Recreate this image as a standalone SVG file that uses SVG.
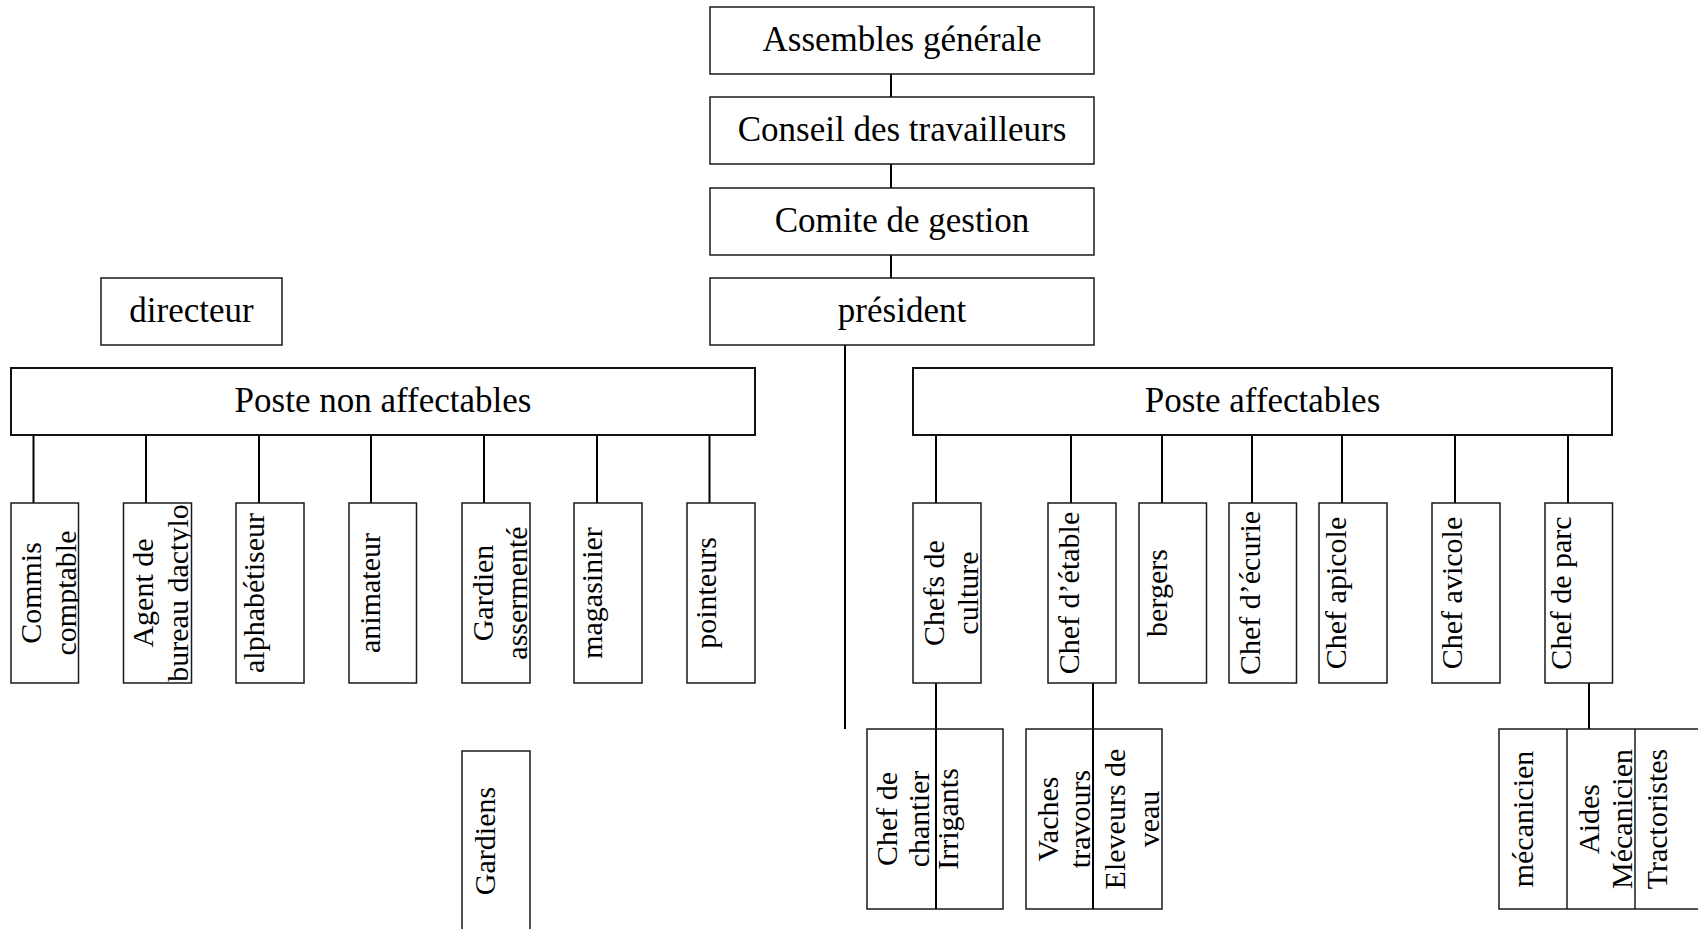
<svg xmlns="http://www.w3.org/2000/svg" width="1698" height="929" viewBox="0 0 1698 929">
<style>
  .bg{fill:#fff}
  .box{fill:#fff;stroke:#1a1a1a;stroke-width:1.5}
  .boxb{fill:#fff;stroke:#111;stroke-width:2}
  .cl{stroke:#000;stroke-width:2;fill:none}
  .dv{stroke:#1a1a1a;stroke-width:1.5;fill:none}
  text{font-family:"Liberation Serif","Times New Roman",serif;fill:#000;text-anchor:middle}
  .h{font-size:35px}
  .v{font-size:30px}
</style>
<defs>
  <clipPath id="c1"><rect x="11" y="503" width="67.5" height="180"/></clipPath>
  <clipPath id="c2"><rect x="123.5" y="503" width="68" height="180"/></clipPath>
</defs>
<rect class="bg" x="0" y="0" width="1698" height="929"/>

<g id="connectors">
  <line class="cl" x1="891" y1="74" x2="891" y2="97"/>
  <line class="cl" x1="891" y1="164" x2="891" y2="188"/>
  <line class="cl" x1="891" y1="255" x2="891" y2="278"/>
  <line class="cl" x1="845" y1="345" x2="845" y2="729"/>
  <line class="cl" x1="33.5" y1="435" x2="33.5" y2="503"/>
  <line class="cl" x1="146" y1="435" x2="146" y2="503"/>
  <line class="cl" x1="259" y1="435" x2="259" y2="503"/>
  <line class="cl" x1="371" y1="435" x2="371" y2="503"/>
  <line class="cl" x1="484" y1="435" x2="484" y2="503"/>
  <line class="cl" x1="597" y1="435" x2="597" y2="503"/>
  <line class="cl" x1="709.5" y1="435" x2="709.5" y2="503"/>
  <line class="cl" x1="936" y1="435" x2="936" y2="503"/>
  <line class="cl" x1="1071" y1="435" x2="1071" y2="503"/>
  <line class="cl" x1="1162" y1="435" x2="1162" y2="503"/>
  <line class="cl" x1="1252" y1="435" x2="1252" y2="503"/>
  <line class="cl" x1="1342" y1="435" x2="1342" y2="503"/>
  <line class="cl" x1="1455" y1="435" x2="1455" y2="503"/>
  <line class="cl" x1="1568" y1="435" x2="1568" y2="503"/>
  <line class="cl" x1="936" y1="683" x2="936" y2="729"/>
  <line class="cl" x1="1093" y1="683" x2="1093" y2="729"/>
  <line class="cl" x1="1589" y1="683" x2="1589" y2="729"/>
</g>

<g id="n-assembles"><rect class="box" x="710" y="7" width="384" height="67"/><text class="h" x="902" y="50.5">Assembles générale</text></g>
<g id="n-conseil"><rect class="box" x="710" y="97" width="384" height="67"/><text class="h" x="902" y="140.5">Conseil des travailleurs</text></g>
<g id="n-comite"><rect class="box" x="710" y="188" width="384" height="67"/><text class="h" x="902" y="231.5">Comite de gestion</text></g>
<g id="n-president"><rect class="box" x="710" y="278" width="384" height="67"/><text class="h" x="902" y="321.5">président</text></g>
<g id="n-directeur"><rect class="box" x="101" y="278" width="181" height="67"/><text class="h" x="191.5" y="321.5">directeur</text></g>
<g id="n-poste-non"><rect class="boxb" x="11" y="368" width="744" height="67"/><text class="h" x="383" y="411.5">Poste non affectables</text></g>
<g id="n-poste-aff"><rect class="boxb" x="913" y="368" width="699" height="67"/><text class="h" x="1262.5" y="411.5">Poste affectables</text></g>

<g id="n-commis"><rect class="box" x="11" y="503" width="67.5" height="180"/>
  <g clip-path="url(#c1)"><text class="v" transform="translate(41,593) rotate(-90)">Commis</text><text class="v" transform="translate(75.5,593) rotate(-90)">comptable</text></g></g>
<g id="n-agent"><rect class="box" x="123.5" y="503" width="68" height="180"/>
  <g clip-path="url(#c2)"><text class="v" transform="translate(153,593) rotate(-90)">Agent de</text><text class="v" transform="translate(188,593) rotate(-90)">bureau dactylo</text></g></g>
<g id="n-alpha"><rect class="box" x="236" y="503" width="68" height="180"/><text class="v" transform="translate(264,593) rotate(-90)">alphabétiseur</text></g>
<g id="n-animateur"><rect class="box" x="349" y="503" width="67.5" height="180"/><text class="v" transform="translate(380,593) rotate(-90)">animateur</text></g>
<g id="n-gardien-ass"><rect class="box" x="462" y="503" width="68" height="180"/><text class="v" transform="translate(493,593) rotate(-90)">Gardien</text><text class="v" transform="translate(527,593) rotate(-90)">assermenté</text></g>
<g id="n-magasinier"><rect class="box" x="574" y="503" width="68" height="180"/><text class="v" transform="translate(602,593) rotate(-90)">magasinier</text></g>
<g id="n-pointeurs"><rect class="box" x="687" y="503" width="68" height="180"/><text class="v" transform="translate(716,593) rotate(-90)">pointeurs</text></g>
<g id="n-gardiens"><rect class="box" x="462" y="751" width="68" height="190"/><text class="v" transform="translate(495,841) rotate(-90)">Gardiens</text></g>

<g id="n-chefs-culture"><rect class="box" x="913" y="503" width="68" height="180"/><text class="v" transform="translate(944,593) rotate(-90)">Chefs de</text><text class="v" transform="translate(978,593) rotate(-90)">culture</text></g>
<g id="n-chef-etable"><rect class="box" x="1048" y="503" width="68" height="180"/><text class="v" transform="translate(1079,593) rotate(-90)">Chef d’étable</text></g>
<g id="n-bergers"><rect class="box" x="1139" y="503" width="67.5" height="180"/><text class="v" transform="translate(1167,593) rotate(-90)">bergers</text></g>
<g id="n-chef-ecurie"><rect class="box" x="1229" y="503" width="67.5" height="180"/><text class="v" transform="translate(1260,593) rotate(-90)">Chef d’écurie</text></g>
<g id="n-chef-apicole"><rect class="box" x="1319" y="503" width="68" height="180"/><text class="v" transform="translate(1346,593) rotate(-90)">Chef apicole</text></g>
<g id="n-chef-avicole"><rect class="box" x="1432" y="503" width="68" height="180"/><text class="v" transform="translate(1462,593) rotate(-90)">Chef avicole</text></g>
<g id="n-chef-parc"><rect class="box" x="1545" y="503" width="67.5" height="180"/><text class="v" transform="translate(1571,593) rotate(-90)">Chef de parc</text></g>

<g id="n-chantier-irrigants"><rect class="box" x="867" y="729" width="136" height="180"/><line class="cl" x1="936" y1="729" x2="936" y2="909"/>
  <text class="v" transform="translate(897,819) rotate(-90)">Chef de</text><text class="v" transform="translate(929,819) rotate(-90)">chantier</text>
  <text class="v" transform="translate(958,819) rotate(-90)">Irrigants</text></g>
<g id="n-vaches-eleveurs"><rect class="box" x="1026" y="729" width="136" height="180"/><line class="cl" x1="1093" y1="729" x2="1093" y2="909"/>
  <text class="v" transform="translate(1058,819) rotate(-90)">Vaches</text><text class="v" transform="translate(1090,819) rotate(-90)">travours</text>
  <text class="v" transform="translate(1125,819) rotate(-90)">Eleveurs de</text><text class="v" transform="translate(1159,819) rotate(-90)">veau</text></g>
<g id="n-mecaniciens"><rect class="box" x="1499" y="729" width="210" height="180"/><line class="dv" x1="1567" y1="729" x2="1567" y2="909"/><line class="dv" x1="1635" y1="729" x2="1635" y2="909"/>
  <text class="v" transform="translate(1533,819) rotate(-90)">mécanicien</text>
  <text class="v" transform="translate(1599,819) rotate(-90)">Aides</text><text class="v" transform="translate(1632,819) rotate(-90)">Mécanicien</text>
  <text class="v" transform="translate(1667,819) rotate(-90)">Tractoristes</text></g>
</svg>
